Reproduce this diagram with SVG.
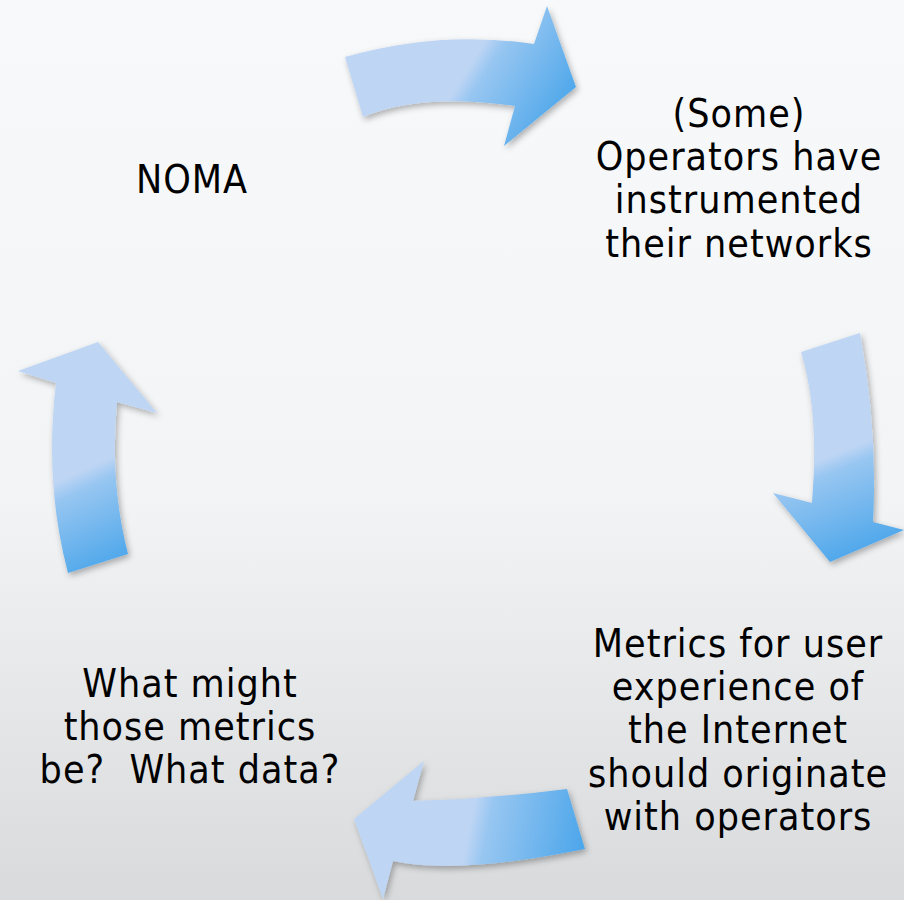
<svg xmlns="http://www.w3.org/2000/svg" width="904" height="900" viewBox="0 0 904 900">
  <defs>
    <linearGradient id="bg" x1="0" y1="0" x2="0" y2="1">
      <stop offset="0" stop-color="#F8F9FB"/>
      <stop offset="0.55" stop-color="#F3F4F6"/>
      <stop offset="1" stop-color="#D8DADC"/>
    </linearGradient>
    <linearGradient id="gTop" gradientUnits="userSpaceOnUse" x1="440" y1="60" x2="560" y2="135">
      <stop offset="0" stop-color="#BED5F4"/>
      <stop offset="0.2" stop-color="#BED5F4"/>
      <stop offset="0.32" stop-color="#97C6F1"/>
      <stop offset="1" stop-color="#47A4EA"/>
    </linearGradient>
    <linearGradient id="gRight" gradientUnits="userSpaceOnUse" x1="830" y1="430" x2="880" y2="555">
      <stop offset="0" stop-color="#BED5F4"/>
      <stop offset="0.18" stop-color="#BED5F4"/>
      <stop offset="0.3" stop-color="#97C6F1"/>
      <stop offset="1" stop-color="#47A4EA"/>
    </linearGradient>
    <linearGradient id="gBottom" gradientUnits="userSpaceOnUse" x1="440" y1="820" x2="590" y2="850">
      <stop offset="0" stop-color="#BED5F4"/>
      <stop offset="0.2" stop-color="#BED5F4"/>
      <stop offset="0.32" stop-color="#97C6F1"/>
      <stop offset="1" stop-color="#47A4EA"/>
    </linearGradient>
    <linearGradient id="gLeft" gradientUnits="userSpaceOnUse" x1="60" y1="440" x2="120" y2="570">
      <stop offset="0" stop-color="#BED5F4"/>
      <stop offset="0.26" stop-color="#BED5F4"/>
      <stop offset="0.38" stop-color="#97C6F1"/>
      <stop offset="1" stop-color="#47A4EA"/>
    </linearGradient>
    <filter id="shadow" x="-20%" y="-20%" width="140%" height="140%">
      <feDropShadow dx="2" dy="3" stdDeviation="3" flood-color="#000" flood-opacity="0.3"/>
    </filter>
  </defs>
  <style>
    .lbl { font-family: "DejaVu Sans Condensed", "DejaVu Sans", "Liberation Sans", sans-serif; font-stretch: condensed; font-size: 39px; letter-spacing: 1px; fill: #000; text-anchor: middle; white-space: pre; }
    .arrow { filter: url(#shadow); }
  </style>
  <rect x="0" y="0" width="904" height="900" fill="url(#bg)"/>
  <g id="connectors">
    <path class="arrow" fill="url(#gTop)" d="M345,57 Q440,30 534,44 L547,6 L576,87 L504,146 L515,106 Q421,92.5 363,117 Z"/>
    <path class="arrow" fill="url(#gRight)" d="M801,352 L860,333 Q878,430 873,522 L904,530 L830,562 L773,493 L812,503 Q819.5,412.5 801,352 Z"/>
    <path class="arrow" fill="url(#gBottom)" d="M567,789 L585,849 Q457,875 393,861 L383,899 L354,819 L424,761 L413,801 Q490,799 567,789 Z"/>
    <path class="arrow" fill="url(#gLeft)" d="M68,573 L128,554 Q109.5,482 117,402 L157,413 L98,342 L18,371 L56,383 Q44,482 68,573 Z"/>
  </g>
  <g id="node-noma">
    <text class="lbl" x="192" y="193">NOMA</text>
  </g>
  <g id="node-operators">
    <text class="lbl" x="739" y="127">(Some)</text>
    <text class="lbl" x="739" y="170">Operators have</text>
    <text class="lbl" x="739" y="213">instrumented</text>
    <text class="lbl" x="739" y="257">their networks</text>
  </g>
  <g id="node-metrics">
    <text class="lbl" x="738" y="657">Metrics for user</text>
    <text class="lbl" x="738" y="700">experience of</text>
    <text class="lbl" x="738" y="743">the Internet</text>
    <text class="lbl" x="738" y="787">should originate</text>
    <text class="lbl" x="738" y="830">with operators</text>
  </g>
  <g id="node-question">
    <text class="lbl" x="190" y="697">What might</text>
    <text class="lbl" x="190" y="740">those metrics</text>
    <text class="lbl" x="190" y="783">be?  What data?</text>
  </g>
</svg>
